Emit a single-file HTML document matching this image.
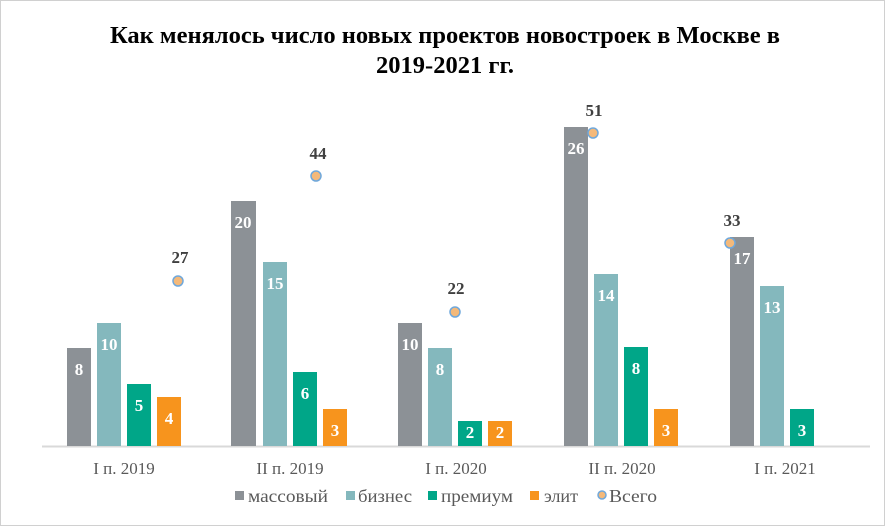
<!DOCTYPE html><html><head><meta charset="utf-8"><style>body{margin:0;background:#fff}svg{display:block}</style></head><body>
<svg width="885" height="526" xmlns="http://www.w3.org/2000/svg" font-family="Liberation Serif, serif">
<rect x="0.5" y="0.5" width="884" height="525" fill="#fff" stroke="#d0d0d0"/>
<text x="445" y="43" font-size="24.5" font-weight="bold" text-anchor="middle" fill="#000">Как менялось число новых проектов новостроек  в Москве в</text>
<text x="445" y="73" font-size="24.5" font-weight="bold" text-anchor="middle" fill="#000">2019-2021 гг.</text>
<line x1="42" y1="446.5" x2="870" y2="446.5" stroke="#d9d9d9" stroke-width="2"/>
<g>
<rect x="67" y="348" width="24" height="98" fill="#8c9196"/><rect x="97" y="323" width="24" height="123" fill="#84b8bd"/><rect x="127" y="384" width="24" height="62" fill="#00a688"/><rect x="157" y="397" width="24" height="49" fill="#f7941d"/>
<rect x="231" y="201" width="25" height="245" fill="#8c9196"/><rect x="263" y="262" width="24" height="184" fill="#84b8bd"/><rect x="293" y="372" width="24" height="74" fill="#00a688"/><rect x="323" y="409" width="24" height="37" fill="#f7941d"/>
<rect x="398" y="323" width="24" height="123" fill="#8c9196"/><rect x="428" y="348" width="24" height="98" fill="#84b8bd"/><rect x="458" y="421" width="24" height="25" fill="#00a688"/><rect x="488" y="421" width="24" height="25" fill="#f7941d"/>
<rect x="564" y="127" width="24" height="319" fill="#8c9196"/><rect x="594" y="274" width="24" height="172" fill="#84b8bd"/><rect x="624" y="347" width="24" height="99" fill="#00a688"/><rect x="654" y="409" width="24" height="37" fill="#f7941d"/>
<rect x="730" y="237" width="24" height="209" fill="#8c9196"/><rect x="760" y="286" width="24" height="160" fill="#84b8bd"/><rect x="790" y="409" width="24" height="37" fill="#00a688"/>
</g>
<g font-size="17" font-weight="bold" fill="#fff" text-anchor="middle">
<text x="79" y="375">8</text><text x="109" y="350">10</text><text x="139" y="411">5</text><text x="169" y="424">4</text>
<text x="243" y="228">20</text><text x="275" y="289">15</text><text x="305" y="399">6</text><text x="335" y="436">3</text>
<text x="410" y="350">10</text><text x="440" y="375">8</text><text x="470" y="438">2</text><text x="500" y="438">2</text>
<text x="576" y="154">26</text><text x="606" y="301">14</text><text x="636" y="374">8</text><text x="666" y="436">3</text>
<text x="742" y="264">17</text><text x="772" y="313">13</text><text x="802" y="436">3</text>
</g>
<g fill="#f4b97a" stroke="#6fa8dc" stroke-width="1.5">
<circle cx="178" cy="281" r="5"/><circle cx="316" cy="176" r="5"/><circle cx="455" cy="312" r="5"/><circle cx="593" cy="133" r="5"/><circle cx="730" cy="243" r="5"/>
</g>
<g font-size="17" font-weight="bold" fill="#404040" text-anchor="middle">
<text x="180" y="263">27</text><text x="318" y="159">44</text><text x="456" y="294">22</text><text x="594" y="116">51</text><text x="732" y="226">33</text>
</g>
<g font-size="17" fill="#595959" text-anchor="middle">
<text x="124" y="474">I п. 2019</text><text x="290" y="474">II п. 2019</text><text x="456" y="474">I п. 2020</text><text x="622" y="474">II п. 2020</text><text x="785" y="474">I п. 2021</text>
</g>
<g font-size="18" fill="#595959" lengthAdjust="spacingAndGlyphs">
<rect x="235" y="491" width="9" height="9" fill="#8c9196"/><text x="248" y="502" textLength="80" lengthAdjust="spacingAndGlyphs">массовый</text>
<rect x="346" y="491" width="9" height="9" fill="#84b8bd"/><text x="358" y="502" textLength="54" lengthAdjust="spacingAndGlyphs">бизнес</text>
<rect x="428" y="491" width="9" height="9" fill="#00a688"/><text x="441" y="502" textLength="72" lengthAdjust="spacingAndGlyphs">премиум</text>
<rect x="530" y="491" width="9" height="9" fill="#f7941d"/><text x="544" y="502" textLength="34" lengthAdjust="spacingAndGlyphs">элит</text>
<circle cx="602" cy="495" r="4" fill="#f4b97a" stroke="#6fa8dc" stroke-width="1.5"/><text x="609" y="502" textLength="48" lengthAdjust="spacingAndGlyphs">Всего</text>
</g>
</svg>
</body></html>
